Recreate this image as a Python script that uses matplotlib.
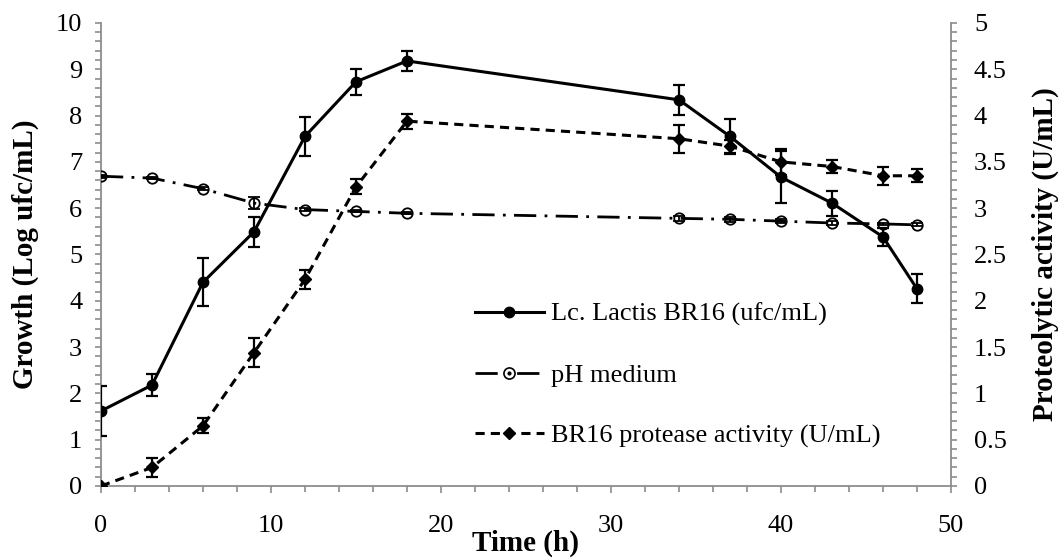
import matplotlib
matplotlib.use("Agg")
import matplotlib.pyplot as plt
from matplotlib.lines import Line2D
from matplotlib.ticker import MultipleLocator, FuncFormatter

time_h = [0, 3, 6, 9, 12, 15, 18, 34, 37, 40, 43, 46, 48]
growth = [1.62, 2.18, 4.40, 5.49, 7.55, 8.73, 9.18, 8.34, 7.55, 6.67, 6.11, 5.38, 4.26]
growth_err = [0.53, 0.24, 0.52, 0.33, 0.43, 0.28, 0.21, 0.32, 0.38, 0.56, 0.27, 0.20, 0.31]
ph = [6.69, 6.65, 6.42, 6.11, 5.97, 5.93, 5.89, 5.78, 5.76, 5.72, 5.68, 5.66, 5.64]
ph_err = [0.03, 0.02, 0.03, 0.13, 0.03, 0.02, 0.02, 0.06, 0.05, 0.04, 0.04, 0.03, 0.03]
protease = [0.0, 0.20, 0.65, 1.44, 2.23, 3.23, 3.94, 3.75, 3.67, 3.50, 3.45, 3.35, 3.35]
protease_err = [0.01, 0.10, 0.08, 0.155, 0.10, 0.08, 0.08, 0.15, 0.07, 0.14, 0.07, 0.10, 0.07]

labels = ["Lc. Lactis BR16 (ufc/mL)", "pH medium", "BR16 protease activity (U/mL)"]

plt.rcParams["font.family"] = ["Liberation Serif", "DejaVu Serif"]
axis_grey = "#8c8c8c"
dashdot = (0, (8, 3, 1, 3))
dashed = (0, (3, 2))

fig = plt.figure(figsize=(10.63, 5.59), dpi=100)
ax = fig.add_axes([0.095, 0.1306, 0.7996, 0.8283])
ax2 = ax.twinx()

# growth + pH on the left axis
ax.errorbar(time_h, growth, yerr=growth_err, color="black", lw=2.2,
            marker="o", ms=7.5, capsize=4.3, elinewidth=1.6, capthick=1.6, zorder=3)
ax.errorbar(time_h, ph, yerr=ph_err, color="black", lw=2.0, ls=dashdot,
            marker="o", ms=7.5, mfc="none", mew=1.3,
            capsize=4.3, elinewidth=1.3, capthick=1.3, zorder=3)

# protease on the right axis
ax2.errorbar(time_h, protease, yerr=protease_err, color="black", lw=2.2, ls=dashed,
             marker="D", ms=6.5, capsize=4.3, elinewidth=1.6, capthick=1.6, zorder=3)

ax.set_xlim(0, 50)
ax.set_ylim(0, 10)
ax2.set_ylim(0, 5)

ax.xaxis.set_major_locator(MultipleLocator(10))
ax.xaxis.set_minor_locator(MultipleLocator(2))
ax.yaxis.set_major_locator(MultipleLocator(1))
ax.yaxis.set_minor_locator(MultipleLocator(0.2))
ax2.yaxis.set_major_locator(MultipleLocator(0.5))
ax2.yaxis.set_minor_locator(MultipleLocator(0.1))
ax2.yaxis.set_major_formatter(FuncFormatter(lambda v, p: f"{v:g}"))

for a in (ax, ax2):
    a.spines["top"].set_visible(False)
    for s in a.spines.values():
        s.set_color(axis_grey)
        s.set_linewidth(1.3)
ax.spines["right"].set_visible(False)
ax2.spines["left"].set_visible(False)
ax2.spines["bottom"].set_visible(False)

ax.tick_params(axis="x", which="major", direction="out", length=5, width=1.2,
               color=axis_grey, labelsize=19, pad=16)
ax.tick_params(axis="x", which="minor", direction="out", length=4, width=1.2,
               color=axis_grey)
ax.tick_params(axis="y", which="both", direction="out", length=4.5, width=1.2,
               color=axis_grey, labelsize=19, pad=9)
ax2.tick_params(axis="y", which="both", direction="out", length=4.5, width=1.2,
                color=axis_grey, labelsize=19, pad=12)

ax.set_xlabel("Time (h)", fontsize=21, fontweight="bold")
ax.set_ylabel("Growth (Log ufc/mL)", fontsize=21, fontweight="bold")
ax2.set_ylabel("Proteolytic activity (U/mL)", fontsize=21, fontweight="bold")
ax.xaxis.label.set_va("center")
ax.yaxis.label.set_va("center")
ax2.yaxis.label.set_va("center")
ax.xaxis.set_label_coords(0.5, -0.123)
ax.yaxis.set_label_coords(-0.0894, 0.5)
ax2.yaxis.set_label_coords(1.1106, 0.5)

h_growth = Line2D([], [], color="black", lw=2.2, marker="o", ms=7.5)
h_ph = (Line2D([], [], color="black", lw=2.0, ls=dashdot),
        Line2D([], [], ls="none", marker="o", ms=8, mfc="white", mec="black", mew=1.2),
        Line2D([], [], ls="none", marker="o", ms=2, mfc="black", mec="black"))
h_prot = Line2D([], [], color="black", lw=2.2, ls=dashed, marker="D", ms=6.5)

ax2.legend([h_growth, h_ph, h_prot], labels, loc="center left",
           bbox_to_anchor=(0.447, 0.329), bbox_transform=fig.transFigure,
           frameon=False, fontsize=19, handlelength=2.6, handletextpad=0.27,
           labelspacing=1.4, borderpad=0, borderaxespad=0)

fig.savefig("out.png", dpi=100)
